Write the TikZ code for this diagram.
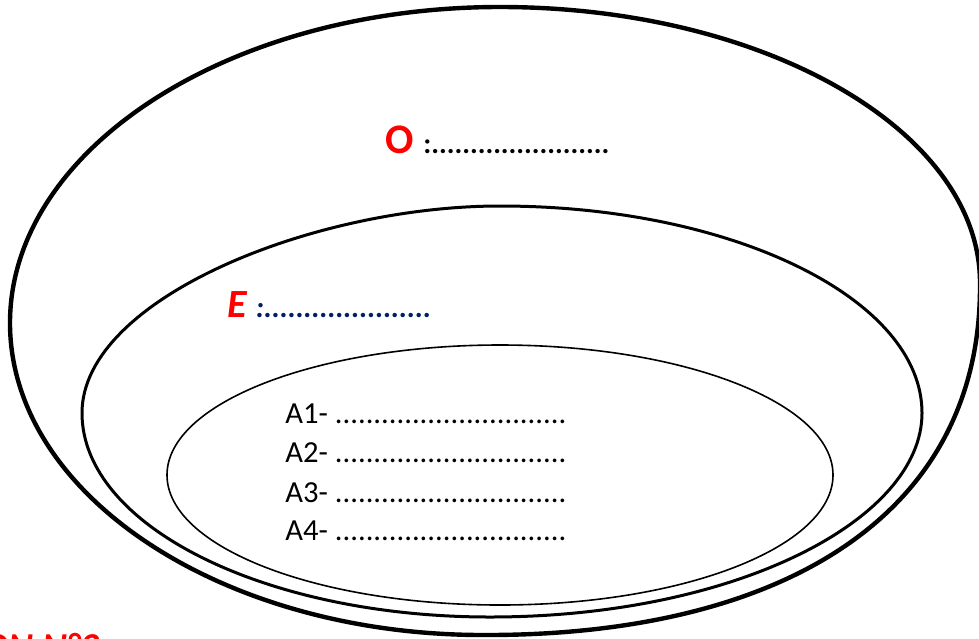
\documentclass[tikz,border=0pt]{standalone}
\usepackage{fontspec}
\setmainfont{Carlito}
\definecolor{navy}{HTML}{002060}

\begin{document}
\begin{tikzpicture}[x=0.5pt,y=-0.5pt]
    \useasboundingbox (0,0) rectangle (979,638);
    \clip (0,0) rectangle (979,638);

    % outer bowl, middle and inner sets
    \draw[line width=2.2pt] (10,323) .. controls (10,149) and (229,7) .. (500,7)
        .. controls (765,7) and (980,131) .. (980,283)
        .. controls (982,520) and (775,636) .. (483,635)
        .. controls (222,635) and (10,495) .. (10,323) -- cycle;
    \draw[line width=1.5pt] (82,413) .. controls (82,299) and (313,206) .. (500,206)
        .. controls (733,206) and (922,299) .. (922,413)
        .. controls (922,520) and (735,617) .. (490,617)
        .. controls (265,617) and (82,526) .. (82,413) -- cycle;
    \draw[line width=0.8pt] (500,475) ellipse [x radius=333, y radius=130];

    \node[anchor=base west, inner sep=0] (olabel) at (385,153)
        {\fontsize{21}{25}\selectfont\bfseries\color{red}O\ \fontsize{14.5}{17}\selectfont\color{black}:.......................};
    \node[anchor=base west, inner sep=0] (elabel) at (227,317)
        {\fontsize{20}{24}\selectfont\bfseries\itshape\color{red}E\ \fontsize{14.9}{18}\selectfont\color{navy}:.....................};

    \node[anchor=base west, inner sep=0] (a1) at (285,423) {\fontsize{15.3}{18}\selectfont A1- ..............................};
    \node[anchor=base west, inner sep=0] (a2) at (285,462) {\fontsize{15.3}{18}\selectfont A2- ..............................};
    \node[anchor=base west, inner sep=0] (a3) at (285,502) {\fontsize{15.3}{18}\selectfont A3- ..............................};
    \node[anchor=base west, inner sep=0] (a4) at (285,540) {\fontsize{15.3}{18}\selectfont A4- ..............................};

    \node[anchor=base east, inner sep=0] (title) at (100,659)
        {\fontsize{19}{23}\selectfont\bfseries\itshape\color{red}ION N°2};
\end{tikzpicture}
\end{document}
